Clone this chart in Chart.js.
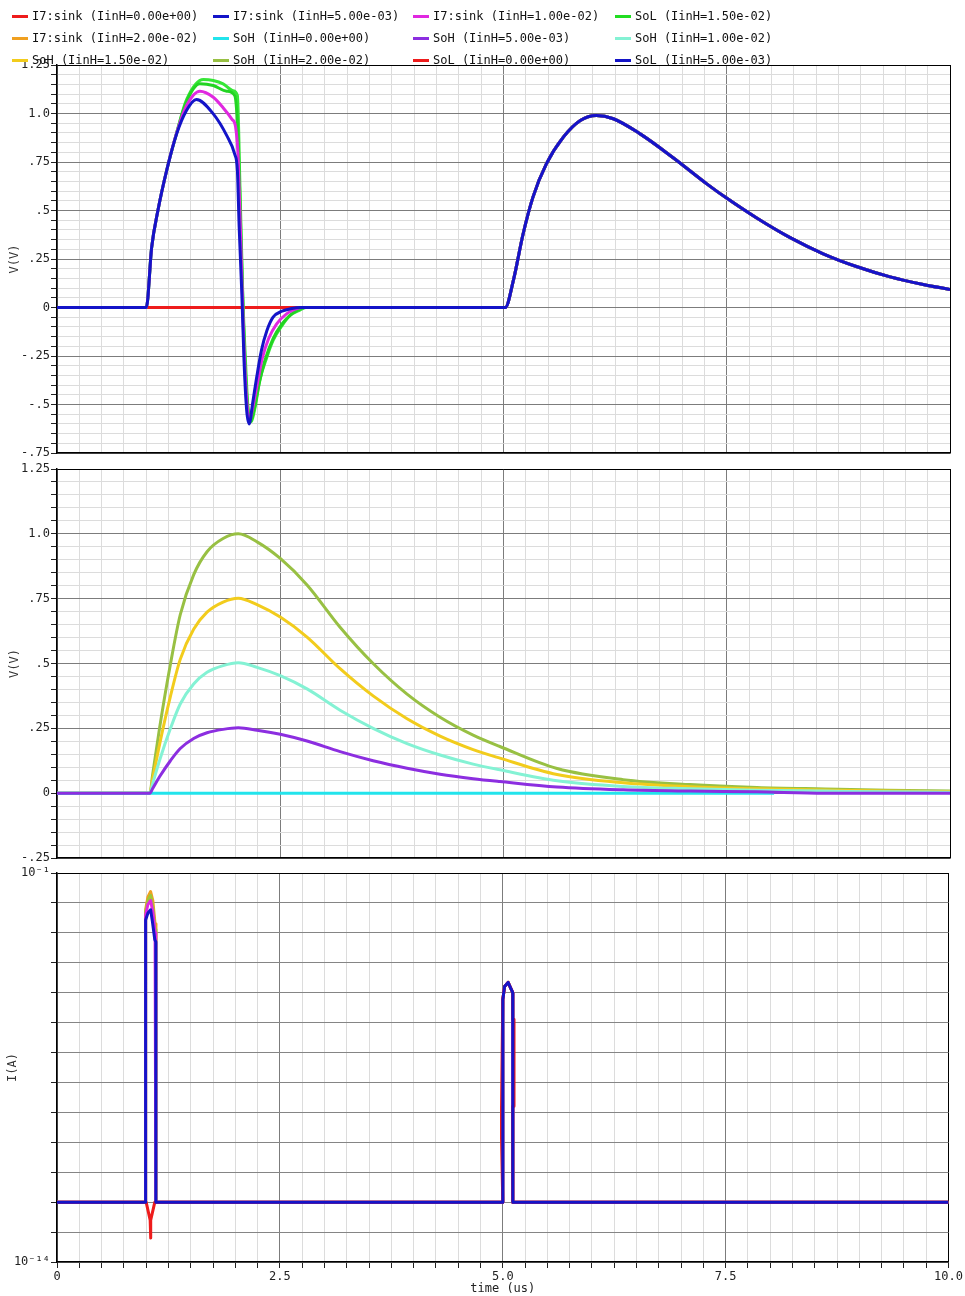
<!DOCTYPE html>
<html>
<head>
<meta charset="utf-8">
<script src="https://cdn.jsdelivr.net/npm/chart.js@4.4.1/dist/chart.umd.min.js"></script>
<style>
  html, body { margin: 0; padding: 0; background: #fff; }
  #wrap { position: relative; width: 965px; height: 1296px; overflow: hidden; background: #fff; }
  #wrap canvas { position: absolute; left: 0; }
  #legend { position: absolute; left: 0; top: 0; width: 965px; height: 70px; z-index: 5;
            font: 12px "DejaVu Sans Mono", monospace; color: #111; }
  .lg-text { position: absolute; white-space: pre; line-height: 14px; }
  .lg-sw { position: absolute; width: 16px; height: 3px; }
</style>
</head>
<body>
<div id="wrap">
  <div id="legend"></div>
  <canvas id="c1" width="965" height="420" style="top:50px"></canvas>
  <canvas id="c2" width="965" height="420" style="top:455px"></canvas>
  <canvas id="c3" width="965" height="436" style="top:860px"></canvas>
</div>
<script>
// ---- legend ----
const legendNames = [
  'I7:sink (IinH=0.00e+00)', 'I7:sink (IinH=5.00e-03)', 'I7:sink (IinH=1.00e-02)', 'SoL (IinH=1.50e-02)',
  'I7:sink (IinH=2.00e-02)', 'SoH (IinH=0.00e+00)', 'SoH (IinH=5.00e-03)', 'SoH (IinH=1.00e-02)',
  'SoH (IinH=1.50e-02)', 'SoH (IinH=2.00e-02)', 'SoL (IinH=0.00e+00)', 'SoL (IinH=5.00e-03)'
];
const legendColors = [
  '#ee1c1c', '#1414c8', '#e028e0', '#22dd22',
  '#f0a020', '#22e4ec', '#8c2ee0', '#84f2d4',
  '#f2cc1c', '#98c043', '#ee1c1c', '#1414c8'
];

// ---- axis ticks ----
const xTickValues = [0, 2.5, 5, 7.5, 10];
const xTickLabels = ['0', '2.5', '5.0', '7.5', '10.0'];
const vTickValues1 = [-0.75, -0.5, -0.25, 0, 0.25, 0.5, 0.75, 1.0, 1.25];
const vTickLabels1 = ['-.75', '-.5', '-.25', '0', '.25', '.5', '.75', '1.0', '1.25'];
const vTickValues2 = [-0.25, 0, 0.25, 0.5, 0.75, 1.0, 1.25];
const vTickLabels2 = ['-.25', '0', '.25', '.5', '.75', '1.0', '1.25'];
const iDecades = [1e-14, 1e-13, 1e-12, 1e-11, 1e-10, 1e-9, 1e-8, 1e-7, 1e-6, 1e-5, 1e-4, 1e-3, 1e-2, 1e-1];
const iTickValues = [1e-14, 1e-1];
const iTickLabels = ['10\u207B\u00B9\u2074', '10\u207B\u00B9'];

// ---- top panel: SoL (V) ----
// second pulse, shared by every SoL trace
const tSoLPulse2 = [5.0, 5.02, 5.11, 5.22, 5.33, 5.48, 5.67, 5.86, 6.04, 6.23, 6.53, 6.90, 7.28, 7.51, 7.84, 8.21, 8.58, 8.96, 9.33, 9.70, 10.0];
const vSoLPulse2 = [0, 0, 0.139, 0.38, 0.569, 0.74, 0.878, 0.964, 0.99, 0.973, 0.895, 0.772, 0.636, 0.560, 0.46, 0.36, 0.277, 0.21, 0.158, 0.119, 0.093];

const tSoL0 = [0];
const vSoL0 = [0];

const tSoL5m = [0, 1.0, 1.06, 1.13, 1.23, 1.34, 1.45, 1.56, 1.75, 1.90, 1.99, 2.02, 2.04, 2.07, 2.094, 2.124, 2.153, 2.19, 2.236, 2.29, 2.35, 2.42, 2.52, 2.63, 2.72];
const vSoL5m = [0, 0, 0.31, 0.50, 0.71, 0.895, 1.015, 1.072, 0.998, 0.887, 0.79, 0.706, 0.414, 0.07, -0.27, -0.53, -0.60, -0.496, -0.36, -0.22, -0.12, -0.05, -0.019, -0.005, 0];

const tSoL10m = [0, 1.0, 1.06, 1.13, 1.23, 1.34, 1.45, 1.60, 1.75, 1.86, 1.96, 2.0, 2.03, 2.06, 2.09, 2.12, 2.155, 2.19, 2.24, 2.30, 2.37, 2.46, 2.57, 2.66, 2.74];
const vSoL10m = [0, 0, 0.31, 0.50, 0.71, 0.90, 1.04, 1.115, 1.084, 1.03, 0.97, 0.93, 0.758, 0.30, -0.15, -0.45, -0.585, -0.52, -0.40, -0.26, -0.16, -0.084, -0.033, -0.01, 0];

const tSoL15m = [0, 1.0, 1.06, 1.13, 1.23, 1.34, 1.45, 1.60, 1.75, 1.90, 1.99, 2.03, 2.06, 2.09, 2.12, 2.15, 2.17, 2.21, 2.26, 2.33, 2.42, 2.52, 2.61, 2.70, 2.78];
const vSoL15m = [0, 0, 0.31, 0.50, 0.71, 0.90, 1.06, 1.153, 1.144, 1.115, 1.093, 0.85, 0.35, -0.10, -0.42, -0.56, -0.585, -0.52, -0.40, -0.27, -0.16, -0.085, -0.04, -0.012, 0];

const tSoL20m = [0, 1.0, 1.06, 1.13, 1.23, 1.34, 1.45, 1.64, 1.75, 1.86, 1.97, 2.02, 2.05, 2.08, 2.11, 2.14, 2.17, 2.22, 2.27, 2.35, 2.42, 2.52, 2.61, 2.72, 2.79];
const vSoL20m = [0, 0, 0.31, 0.50, 0.71, 0.90, 1.07, 1.175, 1.17, 1.153, 1.118, 1.093, 0.60, 0.07, -0.27, -0.53, -0.59, -0.51, -0.376, -0.256, -0.17, -0.093, -0.041, -0.013, 0];

// ---- middle panel: SoH (V) ----
const tSoH = [0, 1.04, 1.07, 1.15, 1.27, 1.38, 1.53, 1.68, 1.86, 2.03, 2.24, 2.50, 2.80, 3.17, 3.54, 3.92, 4.29, 4.66, 4.96, 5.6, 6.34, 7.09, 7.84, 8.6, 9.3, 10.0];
const vSoH20m = [0, 0, 0.069, 0.254, 0.497, 0.688, 0.842, 0.931, 0.982, 1.0, 0.969, 0.905, 0.803, 0.64, 0.50, 0.382, 0.293, 0.224, 0.18, 0.095, 0.052, 0.033, 0.022, 0.016, 0.011, 0.008];
const vSoH15m = [0, 0, 0.052, 0.19, 0.373, 0.516, 0.632, 0.698, 0.737, 0.752, 0.727, 0.679, 0.602, 0.48, 0.375, 0.287, 0.22, 0.168, 0.135, 0.072, 0.04, 0.025, 0.017, 0.012, 0.008, 0.006];
const vSoH10m = [0, 0, 0.035, 0.128, 0.249, 0.344, 0.421, 0.466, 0.492, 0.503, 0.485, 0.453, 0.402, 0.32, 0.25, 0.191, 0.147, 0.112, 0.09, 0.048, 0.026, 0.017, 0.011, 0.008, 0.005, 0.004];
const vSoH5m = [0, 0, 0.017, 0.064, 0.125, 0.172, 0.211, 0.233, 0.246, 0.252, 0.243, 0.227, 0.201, 0.16, 0.125, 0.096, 0.073, 0.056, 0.045, 0.024, 0.013, 0.008, 0.005, 0, 0, 0];
const tSoH0 = [0, 8.03];
const vSoH0 = [0, 0];

// ---- bottom panel: I7:sink (A) ----
const tSink5m = [0, 0.993, 0.994, 1.02, 1.05, 1.07, 1.097, 1.108, 1.109, 5.0, 5.001, 5.02, 5.06, 5.09, 5.112, 5.113, 10];
const iSink5m = [1e-12, 1e-12, 2.7e-3, 4.6e-3, 5.9e-3, 2.4e-3, 5.9e-4, 5e-4, 1e-12, 1e-12, 5.9e-6, 1.6e-5, 2.2e-5, 1.4e-5, 1e-5, 1e-12, 1e-12];
const tSink10m = [0, 0.993, 0.994, 1.02, 1.05, 1.075, 1.10, 1.108, 1.109, 5.0, 5.001, 5.02, 5.06, 5.09, 5.112, 5.113, 10];
const iSink10m = [1e-12, 1e-12, 4e-3, 9e-3, 1.2e-2, 5e-3, 1e-3, 7e-4, 1e-12, 1e-12, 5.9e-6, 1.6e-5, 2.2e-5, 1.4e-5, 1e-5, 1e-12, 1e-12];
const tSink15m = [0, 0.993, 0.994, 1.02, 1.05, 1.075, 1.10, 1.11, 1.111, 5.0, 5.001, 5.02, 5.06, 5.09, 5.112, 5.113, 10];
const iSink15m = [1e-12, 1e-12, 5e-3, 1.2e-2, 1.8e-2, 7e-3, 1.3e-3, 6e-4, 1e-12, 1e-12, 5.9e-6, 1.6e-5, 2.2e-5, 1.4e-5, 1e-5, 1e-12, 1e-12];
const tSink20m = [0, 0.993, 0.994, 1.02, 1.05, 1.075, 1.10, 1.11, 1.111, 5.0, 5.001, 5.02, 5.06, 5.09, 5.112, 5.113, 10];
const iSink20m = [1e-12, 1e-12, 6e-3, 1.6e-2, 2.4e-2, 1.2e-2, 2e-3, 1e-3, 1e-12, 1e-12, 5.9e-6, 1.6e-5, 2.2e-5, 1.4e-5, 1e-5, 1e-12, 1e-12];
const tSink0 = [0, 1.0, 1.045, 1.049, 1.053, 1.097, 5.0, 4.986, 4.986, 5.0, 5.02, 5.06, 5.09, 5.112, 5.112, 5.126, 5.126, 5.112, 5.112, 10];
const iSink0 = [1e-12, 1e-12, 2.5e-13, 6.3e-14, 2.5e-13, 1e-12, 1e-12, 1.3e-10, 1.6e-9, 5.9e-6, 1.6e-5, 2.2e-5, 1.4e-5, 1e-5, 1.3e-6, 1.3e-6, 1.6e-9, 1.6e-9, 1e-12, 1e-12];

// ---- helpers ----
const FONT = 'DejaVu Sans Mono';
const tickFont = { family: FONT, size: 12 };
const near = (a, b) => Math.abs(a - b) < 1e-6;
const pts = (ts, vs) => ts.map((t, i) => ({ x: t, y: vs[i] }));
const joinPts = (ts, vs, ts2, vs2) => pts(ts, vs).concat(pts(ts2, vs2));
function labelFor(v, vals, labels) {
  for (let i = 0; i < vals.length; i++) if (near(v, vals[i])) return labels[i];
  return '';
}
function logLabelFor(v, vals, labels) {
  for (let i = 0; i < vals.length; i++) if (near(Math.log10(v), Math.log10(vals[i]))) return labels[i];
  return '';
}
function isMultiple(v, step) { const q = v / step; return Math.abs(q - Math.round(q)) < 1e-6; }

function line(data, color, smooth) {
  return {
    data, borderColor: color, borderWidth: 3, pointRadius: 0, fill: false,
    tension: 0, cubicInterpolationMode: smooth ? 'monotone' : 'default',
    borderJoinStyle: 'round'
  };
}

function xScale(showLabels) {
  return {
    type: 'linear', min: 0, max: 10,
    ticks: {
      stepSize: 0.25, autoSkip: false, maxRotation: 0, display: showLabels, padding: 2,
      font: tickFont, color: '#222',
      callback: v => labelFor(v, xTickValues, xTickLabels)
    },
    grid: {
      color: c => {
        const v = c.tick ? c.tick.value : 0;
        if (near(v, 10)) return '#000';
        if (isMultiple(v, 2.5)) return '#7c7c7c';
        return '#dcdcdc';
      },
      lineWidth: 1, drawTicks: showLabels, tickLength: 6, tickColor: '#222'
    },
    border: { display: true, color: '#000', width: 1.5 },
    title: showLabels
      ? { display: true, text: 'time (us)', font: tickFont, color: '#222', padding: { top: 0, bottom: 0 } }
      : { display: false },
    afterFit: s => { s.height = showLabels ? 34 : 0; }
  };
}

function vScale(min, max, vals, labels) {
  return {
    type: 'linear', min, max,
    ticks: {
      stepSize: 0.05, autoSkip: false, padding: 1, font: tickFont, color: '#222',
      callback: v => labelFor(v, vals, labels)
    },
    grid: {
      color: c => {
        const v = c.tick ? c.tick.value : 0;
        if (near(v, max)) return '#000';
        if (isMultiple(v, 0.25)) return '#7c7c7c';
        return '#dcdcdc';
      },
      lineWidth: 1, tickLength: 6, tickColor: '#222'
    },
    border: { display: true, color: '#000', width: 1.5 },
    title: { display: true, text: 'V(V)', font: tickFont, color: '#333', padding: { top: 8, bottom: 0 } },
    afterFit: s => { s.width = 57; }
  };
}

function iScale() {
  return {
    type: 'logarithmic', min: 1e-14, max: 1e-1,
    afterBuildTicks: s => { s.ticks = iDecades.map(v => ({ value: v })); },
    ticks: {
      autoSkip: false, padding: 1, font: tickFont, color: '#222',
      callback: v => logLabelFor(v, iTickValues, iTickLabels)
    },
    grid: {
      color: c => (c.tick && near(Math.log10(c.tick.value), -1)) ? '#000' : '#858585',
      lineWidth: 1, tickLength: 6, tickColor: '#222'
    },
    border: { display: true, color: '#000', width: 1.5 },
    title: { display: true, text: 'I(A)', font: tickFont, color: '#333', padding: { top: 6, bottom: 0 } },
    afterFit: s => { s.width = 57; }
  };
}

function makeChart(id, datasets, yScale, showX, pad) {
  return new Chart(document.getElementById(id), {
    type: 'line',
    data: { datasets },
    options: {
      responsive: false, animation: false, devicePixelRatio: 1, events: [],
      layout: { autoPadding: false, padding: pad },
      plugins: { legend: { display: false }, tooltip: { enabled: false } },
      scales: { x: xScale(showX), y: yScale }
    }
  });
}

// ---- legend ----
const legendCols = [32, 233, 433, 635];
const legendRows = [16, 38, 60];
const lg = document.getElementById('legend');
legendNames.forEach((name, i) => {
  const cx = legendCols[i % 4], cy = legendRows[Math.floor(i / 4)];
  const sw = document.createElement('div');
  sw.className = 'lg-sw';
  sw.style.left = (cx - 20) + 'px';
  sw.style.top = (cy - 1.5) + 'px';
  sw.style.background = legendColors[i];
  lg.appendChild(sw);
  const tx = document.createElement('div');
  tx.className = 'lg-text';
  tx.style.left = cx + 'px';
  tx.style.top = (cy - 7) + 'px';
  tx.textContent = name;
  lg.appendChild(tx);
});

// ---- charts (first dataset is drawn on top) ----
makeChart('c1', [
  line(joinPts(tSoL5m, vSoL5m, tSoLPulse2, vSoLPulse2), '#1414c8', true),
  line(joinPts(tSoL10m, vSoL10m, tSoLPulse2, vSoLPulse2), '#e028e0', true),
  line(joinPts(tSoL15m, vSoL15m, tSoLPulse2, vSoLPulse2), '#22d422', true),
  line(joinPts(tSoL20m, vSoL20m, tSoLPulse2, vSoLPulse2), '#36e636', true),
  line(joinPts(tSoL0, vSoL0, tSoLPulse2, vSoLPulse2), '#ee1c1c', true)
], vScale(-0.75, 1.25, vTickValues1, vTickLabels1), false, { top: 15, bottom: 17, left: 0, right: 15 });

makeChart('c2', [
  line(pts(tSoH, vSoH5m), '#8c2ee0', true),
  line(pts(tSoH0, vSoH0), '#22e4ec', false),
  line(pts(tSoH, vSoH10m), '#84f2d4', true),
  line(pts(tSoH, vSoH15m), '#f2cc1c', true),
  line(pts(tSoH, vSoH20m), '#98c043', true)
], vScale(-0.25, 1.25, vTickValues2, vTickLabels2), false, { top: 14, bottom: 17, left: 0, right: 15 });

makeChart('c3', [
  line(pts(tSink5m, iSink5m), '#1414c8', false),
  line(pts(tSink0, iSink0), '#ee1c1c', false),
  line(pts(tSink10m, iSink10m), '#e028e0', false),
  line(pts(tSink15m, iSink15m), '#9cc83a', false),
  line(pts(tSink20m, iSink20m), '#f0a020', false)
], iScale(), true, { top: 13, bottom: 0, left: 0, right: 15 });
</script>
</body>
</html>
